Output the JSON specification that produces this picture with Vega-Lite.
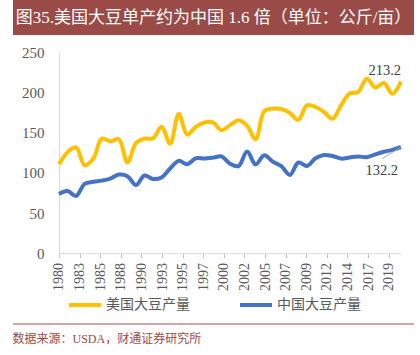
{
  "$schema": "https://vega.github.io/schema/vega-lite/v6.json",
  "padding": {"left": 12, "top": 0, "right": 7, "bottom": 0},
  "background": "white",
  "spacing": 10,
  "resolve": {"scale": {"color": "independent"}, "legend": {"color": "independent"}},
  "config": {"view": {"stroke": null}, "font": "Liberation Serif"},
  "vconcat": [
    {
      "width": 401,
      "height": 35,
      "view": {"fill": "#9b4b47", "stroke": null},
      "data": {"values": [{"t": "图35.美国大豆单产约为中国 1.6 倍（单位：公斤/亩）"}]},
      "mark": {"type": "text", "color": "white", "fontSize": 17, "font": "Liberation Serif, Noto Sans CJK SC"},
      "encoding": {"text": {"field": "t"}}
    },
    {
      "width": 388,
      "height": 201.6,
      "data": {"values": [
        {"year": 1980, "美国大豆产量": 110.8, "中国大豆产量": 74.0},
        {"year": 1981, "美国大豆产量": 125.8, "中国大豆产量": 77.5},
        {"year": 1982, "美国大豆产量": 131.7, "中国大豆产量": 71.5},
        {"year": 1983, "美国大豆产量": 109.5, "中国大豆产量": 86.5},
        {"year": 1984, "美国大豆产量": 117.5, "中国大豆产量": 89.0},
        {"year": 1985, "美国大豆产量": 142.5, "中国大豆产量": 90.5},
        {"year": 1986, "美国大豆产量": 139.2, "中国大豆产量": 93.0},
        {"year": 1987, "美国大豆产量": 141.7, "中国大豆产量": 98.0},
        {"year": 1988, "美国大豆产量": 112.9, "中国大豆产量": 96.0},
        {"year": 1989, "美国大豆产量": 137.0, "中国大豆产量": 85.0},
        {"year": 1990, "美国大豆产量": 142.5, "中国大豆产量": 96.8},
        {"year": 1991, "美国大豆产量": 143.0, "中国大豆产量": 92.5},
        {"year": 1992, "美国大豆产量": 157.2, "中国大豆产量": 94.5},
        {"year": 1993, "美国大豆产量": 136.3, "中国大豆产量": 105.5},
        {"year": 1994, "美国大豆产量": 173.1, "中国大豆产量": 115.0},
        {"year": 1995, "美国大豆产量": 147.6, "中国大豆产量": 110.7},
        {"year": 1996, "美国大豆产量": 157.2, "中国大豆产量": 118.2},
        {"year": 1997, "美国大豆产量": 162.6, "中国大豆产量": 118.0},
        {"year": 1998, "美国大豆产量": 162.6, "中国大豆产量": 119.0},
        {"year": 1999, "美国大豆产量": 153.0, "中国大豆产量": 120.5},
        {"year": 2000, "美国大豆产量": 159.3, "中国大豆产量": 111.5},
        {"year": 2001, "美国大豆产量": 165.5, "中国大豆产量": 108.5},
        {"year": 2002, "美国大豆产量": 158.8, "中国大豆产量": 126.5},
        {"year": 2003, "美国大豆产量": 141.7, "中国大豆产量": 110.5},
        {"year": 2004, "美国大豆产量": 176.4, "中国大豆产量": 122.0},
        {"year": 2005, "美国大豆产量": 179.7, "中国大豆产量": 114.0},
        {"year": 2006, "美国大豆产量": 179.3, "中国大豆产量": 108.5},
        {"year": 2007, "美国大豆产量": 174.3, "中国大豆产量": 97.5},
        {"year": 2008, "美国大豆产量": 165.9, "中国大豆产量": 113.0},
        {"year": 2009, "美国大豆产量": 183.9, "中国大豆产量": 108.6},
        {"year": 2010, "美国大豆产量": 181.8, "中国大豆产量": 118.2},
        {"year": 2011, "美国大豆产量": 175.6, "中国大豆产量": 122.3},
        {"year": 2012, "美国大豆产量": 167.2, "中国大豆产量": 121.0},
        {"year": 2013, "美国大豆产量": 183.9, "中国大豆产量": 117.8},
        {"year": 2014, "美国大豆产量": 198.6, "中国大豆产量": 119.3},
        {"year": 2015, "美国大豆产量": 200.6, "中国大豆产量": 120.5},
        {"year": 2016, "美国大豆产量": 216.9, "中国大豆产量": 119.5},
        {"year": 2017, "美国大豆产量": 206.1, "中国大豆产量": 123.1},
        {"year": 2018, "美国大豆产量": 211.5, "中国大豆产量": 126.3},
        {"year": 2019, "美国大豆产量": 198.1, "中国大豆产量": 128.7},
        {"year": 2020, "美国大豆产量": 213.2, "中国大豆产量": 132.2}
      ]},
      "layer": [
        {
          "data": {"values": [{}]},
          "mark": {"type": "rule", "color": "#d9d9d9", "strokeWidth": 1},
          "encoding": {
            "x": {"datum": 1980, "type": "quantitative"},
            "x2": {"datum": 2020},
            "y": {"datum": 0, "type": "quantitative"}
          }
        },
        {
          "transform": [{"fold": ["美国大豆产量", "中国大豆产量"], "as": ["series", "value"]}],
          "mark": {"type": "line", "strokeWidth": 4, "interpolate": "catmull-rom"},
          "encoding": {
            "x": {
              "field": "year", "type": "quantitative",
              "scale": {"domain": [1974.62, 2020], "nice": false, "zero": false},
              "axis": {
                "title": null, "grid": false, "tickCount": 40, "domain": false,
                "values": [1980, 1982.41, 1984.82, 1987.23, 1989.64, 1992.05, 1994.46, 1996.87, 1999.28, 2001.69, 2004.1, 2006.51, 2008.92, 2011.33, 2013.74, 2016.15, 2018.56],
                "labelExpr": "'' + ceil(datum.value)",
                "labelAngle": -90, "labelFontSize": 14, "labelColor": "#595959",
                "labelFont": "Liberation Serif", "labelPadding": 5, "labelOverlap": false, "labelFlush": false,
                "tickSize": 4, "tickColor": "#bfbfbf"
              }
            },
            "y": {
              "field": "value", "type": "quantitative",
              "scale": {"domain": [0, 250], "nice": false},
              "axis": {
                "title": null, "grid": false, "ticks": false, "offset": -46, "minExtent": 0,
                "values": [0, 50, 100, 150, 200, 250],
                "labelPadding": 15, "labelFontSize": 15, "labelColor": "#595959",
                "labelFont": "Liberation Serif", "domainColor": "#d9d9d9"
              }
            },
            "color": {
              "field": "series", "type": "nominal",
              "scale": {"domain": ["美国大豆产量", "中国大豆产量"], "range": ["#FFC000", "#4472C4"]},
              "legend": {
                "title": null, "orient": "none", "legendX": 65, "legendY": 246, "direction": "horizontal",
                "symbolType": "M-3.2,0H3.2", "symbolSize": 100, "symbolStrokeWidth": 4,
                "labelFontSize": 14, "labelFont": "Noto Sans CJK SC", "labelColor": "#595959",
                "columnPadding": 42, "labelOffset": 14
              }
            }
          }
        },
        {
          "transform": [
            {"fold": ["美国大豆产量", "中国大豆产量"], "as": ["series", "value"]},
            {"filter": "datum.year == 2020 && datum.series == '美国大豆产量'"}
          ],
          "mark": {"type": "text", "align": "right", "baseline": "middle", "dy": -11, "fontSize": 14.5, "color": "#404040", "font": "Liberation Serif"},
          "encoding": {
            "x": {"field": "year", "type": "quantitative"},
            "y": {"field": "value", "type": "quantitative"},
            "text": {"field": "value", "type": "quantitative", "format": ".1f"}
          }
        },
        {
          "transform": [
            {"fold": ["美国大豆产量", "中国大豆产量"], "as": ["series", "value"]},
            {"filter": "datum.year == 2020 && datum.series == '中国大豆产量'"}
          ],
          "mark": {"type": "text", "align": "right", "baseline": "middle", "dx": -3, "dy": 24, "fontSize": 14.5, "color": "#404040", "font": "Liberation Serif"},
          "encoding": {
            "x": {"field": "year", "type": "quantitative"},
            "y": {"field": "value", "type": "quantitative"},
            "text": {"field": "value", "type": "quantitative", "format": ".1f"}
          }
        },
        {
          "data": {"values": [{"x1": 2020, "y1": 132.2, "x2": 2017.8, "y2": 117.8}]},
          "mark": {"type": "rule", "color": "#a6a6a6", "strokeWidth": 1},
          "encoding": {
            "x": {"field": "x1", "type": "quantitative"},
            "x2": {"field": "x2"},
            "y": {"field": "y1", "type": "quantitative"},
            "y2": {"field": "y2"}
          }
        }
      ]
    },
    {
      "width": 401,
      "height": 1,
      "data": {"values": [{"line": 0}]},
      "mark": {"type": "rule", "color": "#a0524e", "strokeWidth": 1},
      "encoding": {
        "y": {"field": "line", "type": "quantitative", "scale": {"domain": [0, 1]}, "axis": null}
      },
      "title": {
        "text": "数据来源：USDA，财通证券研究所",
        "orient": "bottom", "anchor": "start", "fontSize": 12,
        "font": "Liberation Serif, Noto Sans CJK SC", "fontWeight": "normal",
        "color": "#9b4b47", "offset": 9
      }
    }
  ]
}
